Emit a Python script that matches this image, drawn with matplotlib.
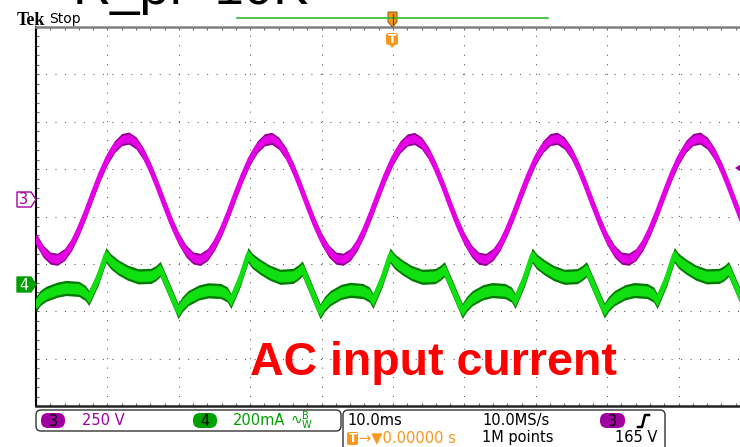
import numpy as np
import matplotlib.pyplot as plt
from matplotlib.patches import FancyBboxPatch, Polygon

W, H = 740, 447

# horizontal 10 ms/div, ch3 = 250 V/div, ch4 = 200 mA/div
t_ms = list(range(-50, 51))
ch3_volts = [
    -212, -276, -312, -318, -293, -240, -162, -70, 31, 128, 213, 276, 313, 321, 296, 241, 163, 70, -30, -127,
    -211, -274, -311, -319, -294, -239, -163, -71, 30, 127, 212, 275, 312, 320, 294, 240, 162, 69, -31, -128,
    -212, -275, -312, -318, -294, -240, -163, -70, 30, 127, 212, 275, 311, 319, 295, 240, 163, 70, -30, -127,
    -211, -275, -313, -319, -293, -240, -162, -70, 31, 127, 213, 276, 313, 320, 295, 241, 163, 70, -30, -126,
    -212, -275, -312, -318, -294, -240, -163, -71, 30, 127, 212, 276, 313, 321, 295, 240, 163, 70, -30, -127,
    -211,
]

ch4_time = [
    -50.0, -49.4, -48.6, -47.1, -45.8, -44.0, -43.1, -42.6, -41.3,
    -40.2, -39.6, -38.5, -37.2, -35.7, -33.9, -33.2, -32.6, -30.1, -29.5, -28.7, -27.2, -25.9, -24.1, -23.2, -22.7, -21.4,
    -20.3, -19.7, -18.6, -17.3, -15.8, -14.0, -13.3, -12.7, -10.2, -9.6, -8.8, -7.3, -6.0, -4.2, -3.3, -2.8, -1.5,
    -0.4, 0.2, 1.3, 2.6, 4.1, 5.9, 6.6, 7.2, 9.7, 10.3, 11.1, 12.6, 13.9, 15.7, 16.6, 17.1, 18.4,
    19.5, 20.1, 21.2, 22.5, 24.0, 25.8, 26.5, 27.1, 29.6, 30.2, 31.0, 32.5, 33.8, 35.6, 36.5, 37.0, 38.3,
    39.4, 40.0, 41.1, 42.4, 43.9, 45.7, 46.4, 47.0, 49.5, 50.0,
]
ch4_ma = [
    -85, -59, -42, -25, -17, -21, -38, -59, 25,
    122, 97, 70, 48, 32, 34, 46, 63, -114, -85, -60, -36, -27, -30, -45, -72, 20,
    122, 97, 72, 48, 30, 34, 48, 65, -116, -85, -60, -34, -25, -30, -45, -72, 20,
    120, 96, 70, 46, 30, 33, 46, 62, -114, -85, -60, -35, -26, -30, -45, -72, 20,
    120, 95, 70, 46, 30, 33, 46, 62, -112, -84, -60, -35, -26, -30, -45, -72, 20,
    122, 97, 72, 48, 32, 34, 46, 63, -112, -90,
]

MAG = '#e600e6'
MAG_DARK = '#8c008c'
MAG_TXT = '#a000a0'
GRN = '#10e010'
GRN_DARK = '#007a00'
GRN_TXT = '#00a000'
ORANGE = '#f7981d'

plt.rcParams['font.family'] = ['DejaVu Sans']

fig = plt.figure(figsize=(W / 100, H / 100), dpi=100)

# graticule, in divisions
ax = fig.add_axes([36 / W, 41 / H, 714 / W, 379 / H])
ax.set_xlim(-50, 50)
ax.set_ylim(-4, 4)
ax.set_xticks(np.arange(-40, 41, 10))
ax.set_yticks(np.arange(-3, 4, 1))
ax.set_xticks(np.arange(-50, 51, 2), minor=True)
ax.set_yticks(np.arange(-4, 4.01, 0.2), minor=True)
ax.tick_params(which='both', direction='in', length=2.5, width=0.8, color='#666666',
               top=True, right=True, labelbottom=False, labelleft=False)
ax.grid(True, which='major', color='#555555', lw=0.75, linestyle=(0, (1, 8.1)))
ax.spines['top'].set(color='#808080', lw=1.8)
ax.spines['left'].set(color='black', lw=1.5)
ax.spines['bottom'].set(color='#222222', lw=1.8)
ax.spines['right'].set_visible(False)

# ch3 voltage
axv = ax.twinx()
axv.set_ylim(-1092, 907)
axv.axis('off')
v = np.array(ch3_volts)
axv.fill_between(t_ms, v - 32, v + 32, color=MAG_DARK, lw=0)
axv.fill_between(t_ms, v - 22, v + 22, color=MAG, lw=0)
axv.plot(t_ms, v, color=MAG, lw=3.5, solid_joinstyle='round')

# ch4 current
axi = ax.twinx()
axi.set_ylim(-515, 1084)
axi.axis('off')
i = np.array(ch4_ma)
axi.fill_between(ch4_time, i - 32, i + 32, color=GRN_DARK, lw=0)
axi.fill_between(ch4_time, i - 22, i + 22, color=GRN, lw=0)
axi.plot(ch4_time, i, color=GRN, lw=3.5, solid_joinstyle='round')

# overlay in pixel coords for the scope decorations
ov = fig.add_axes([0, 0, 1, 1])
ov.set_xlim(0, W)
ov.set_ylim(H, 0)
ov.axis('off')


def tag(y0, y1, label, face, edge, txt):
    pts = [(17, y0), (31, y0), (36, (y0 + y1) / 2), (31, y1), (17, y1)]
    ov.add_patch(Polygon(pts, closed=True, fc=face, ec=edge, lw=1))
    ov.text(24, (y0 + y1) / 2 + 0.5, label, color=txt, ha='center', va='center', fontsize=10.5)


def pill(x0, x1, y0, y1, color, label):
    ov.add_patch(FancyBboxPatch((x0, y0), x1 - x0, y1 - y0,
                                boxstyle='round,pad=0,rounding_size=7', fc=color, ec='none'))
    ov.text((x0 + x1) / 2, (y0 + y1) / 2 + 0.5, label, color='black',
            ha='center', va='center', fontsize=10.5)


tag(192, 207, '3', 'white', MAG_TXT, MAG_TXT)
tag(277, 292, '4', GRN_TXT, GRN_TXT, 'white')

# trigger level marker on the right
ov.add_patch(Polygon([(735, 168), (741, 164), (741, 172)], closed=True, fc=MAG_TXT, ec='none'))

# header (title text is cut off by the top edge, as in the capture)
ov.text(73, 4, 'R_pf=10K', fontsize=38, family='Liberation Sans', color='black', va='baseline')
ov.text(17, 25, 'Tek', fontsize=13, family='Liberation Serif', fontweight='bold', va='baseline')
ov.text(49, 23.5, 'Stop', fontsize=10, va='baseline')
ov.plot([237, 548], [18, 18], color='#2db82d', lw=1.2)

# trigger position markers
ov.add_patch(Polygon([(388, 12), (397, 12), (397, 22), (392.5, 27), (388, 22)],
                     closed=True, fc=ORANGE, ec='#7a4a00', lw=0.6))
ov.plot([392.5, 392.5], [14, 24], color='#7a4a00', lw=1)
ov.add_patch(FancyBboxPatch((386, 33), 12, 12, boxstyle='round,pad=0,rounding_size=2.5',
                            fc=ORANGE, ec='none'))
ov.add_patch(Polygon([(389, 44), (395, 44), (392, 48)], closed=True, fc=ORANGE, ec='none'))
ov.text(392, 39.5, 'T', color='white', fontweight='bold', fontsize=9, ha='center', va='center')

# annotation
ov.text(250, 375, 'AC input current', fontsize=33.5, fontweight='bold',
        family='Liberation Sans', color='#ff0000', va='baseline')

# readout boxes
ov.add_patch(FancyBboxPatch((36, 410), 305, 21, boxstyle='round,pad=0,rounding_size=5',
                            fc='white', ec='#333333', lw=1))
ov.add_patch(FancyBboxPatch((343, 410), 322, 45, boxstyle='round,pad=0,rounding_size=5',
                            fc='white', ec='#333333', lw=1))

pill(41, 65, 413, 428, MAG_TXT, '3')
ov.text(82, 425, '250 V', color=MAG_TXT, fontsize=10.5, va='baseline')
pill(193, 217, 413, 428, GRN_TXT, '4')
ov.text(233, 425, '200mA', color=GRN_TXT, fontsize=10.5, va='baseline')
ov.text(290, 425, '∿$^{\\mathrm{B}}_{\\mathrm{W}}$', color=GRN_TXT, fontsize=10, va='baseline')

ov.text(347, 425, '10.0ms', color='black', fontsize=10.5, va='baseline')
ov.add_patch(FancyBboxPatch((347, 432), 11, 13, boxstyle='round,pad=0,rounding_size=2',
                            fc=ORANGE, ec='none'))
ov.text(352.5, 438.5, 'T', color='white', fontweight='bold', fontsize=8.5, ha='center', va='center')
ov.text(359, 442, '→▼0.00000 s', color=ORANGE, fontsize=10.5, va='baseline')
ov.text(482, 425, '10.0MS/s', color='black', fontsize=10.5, va='baseline')
ov.text(482, 442, '1M points', color='black', fontsize=10.5, va='baseline')
pill(600, 625, 413, 428, MAG_TXT, '3')
ov.plot([638, 642, 645, 649], [427, 427, 415, 415], color='black', lw=1.8)
ov.text(615, 442, '165 V', color='black', fontsize=10.5, va='baseline')

fig.savefig('out.png', dpi=100)
